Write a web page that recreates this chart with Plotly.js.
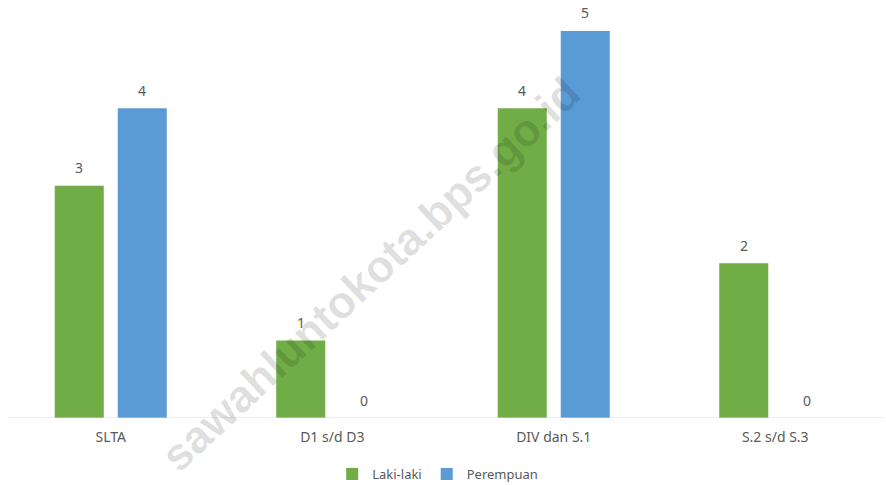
<!DOCTYPE html>
<html>
<head>
<meta charset="utf-8">
<script src="https://cdn.plot.ly/plotly-3.0.1.min.js"></script>
<style>html,body{margin:0;padding:0;background:#fff;}#chart{width:886px;height:485px;}</style>
</head>
<body>
<div id="chart"></div>
<script>
const categories = ["SLTA", "D1 s/d D3", "DIV dan S.1", "S.2 s/d S.3"];
const lakiLaki = [3, 1, 4, 2];
const perempuan = [4, 0, 5, 0];
const seriesNames = ["Laki-laki", "Perempuan"];
const watermark = "sawahluntokota.bps.go.id";

const FONT = "Segoe UI, Noto Sans, Open Sans, sans-serif";
const TXT = "#595959";
const colors = ["#70AD47", "#5B9BD5"];
const allSeries = [lakiLaki, perempuan];

const traces = allSeries.map((vals, i) => ({
  type: "bar",
  name: seriesNames[i],
  x: categories,
  y: vals,
  marker: {color: colors[i]},
  hoverinfo: "skip"
}));

const annotations = [];
// watermark first so that value labels sit on top of it
annotations.push({
  x: 370 / 886, y: (418 - 274) / 418, xref: "paper", yref: "paper",
  text: "<b>" + watermark + "</b>",
  xanchor: "center", yanchor: "middle",
  showarrow: false, textangle: -43,
  font: {family: "Liberation Sans, Arial, sans-serif", size: 45, color: "rgba(0,0,0,0.13)"}
});
allSeries.forEach((vals, i) => {
  vals.forEach((v, j) => {
    annotations.push({
      x: categories[j], y: v, xref: "x", yref: "y",
      xshift: i === 0 ? -31.5 : 31.5, yshift: 18,
      text: String(v), showarrow: false,
      font: {family: FONT, size: 14, color: TXT}
    });
  });
});

const layout = {
  width: 886, height: 485,
  margin: {l: 0, r: 0, t: 0, b: 67, autoexpand: false},
  paper_bgcolor: "#ffffff", plot_bgcolor: "#ffffff",
  barmode: "group", bargap: 0.431, bargroupgap: 0.222,
  font: {family: FONT, size: 13, color: TXT},
  xaxis: {
    type: "category", range: [-0.5, 3.5], automargin: false,
    showgrid: false, zeroline: false, showline: false,
    ticks: "", ticklabelstandoff: 9,
    tickfont: {family: FONT, size: 14, color: TXT}
  },
  yaxis: {
    range: [0, 5.4], visible: false, showgrid: false, zeroline: false, automargin: false
  },
  shapes: [{
    type: "line", xref: "paper", yref: "y",
    x0: 7 / 886, x1: 885 / 886, y0: 0, y1: 0,
    line: {color: "#D9D9D9", width: 1}
  }],
  annotations: annotations,
  showlegend: true,
  legend: {
    orientation: "h", x: 0.494, xanchor: "center", y: (418 - 474) / 418, yanchor: "middle",
    font: {family: FONT, size: 13, color: TXT},
    itemwidth: 30, tracegroupgap: 0
  }
};

Plotly.newPlot("chart", traces, layout, {staticPlot: true, displayModeBar: false});
</script>
</body>
</html>
